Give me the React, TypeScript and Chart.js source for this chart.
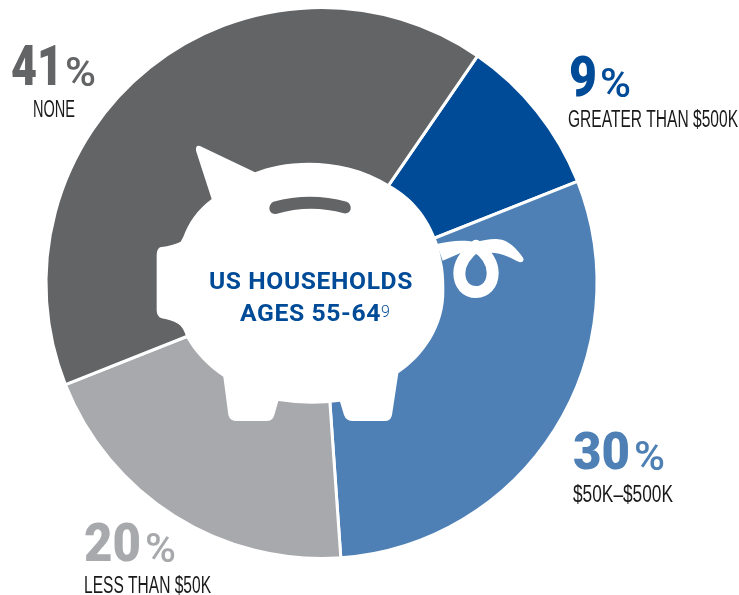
import { useEffect, useRef } from "react";
import { Chart, registerables } from "chart.js";

Chart.register(...registerables);

const categories = ["GREATER THAN $500K", "$50K–$500K", "LESS THAN $50K", "NONE"];
const shares = [9.4, 29.9, 20.1, 40.6];
const percentLabels = ["9", "30", "20", "41"];
const sliceColors = ["#004b97", "#4e80b6", "#a7a9ac", "#636466"];
const centerLines = ["US HOUSEHOLDS", "AGES 55-64"];
const footnote = "9";

// x, baseline, size and target widths of each callout: number, percent sign, caption
const callouts = [
  { nx: 569, nw: 28, ny: 96, fs: 55, px: 600, pw: 31, cx: 568, cw: 170, cy: 127 },
  { nx: 573, nw: 57, ny: 469, fs: 51, px: 634, pw: 31, cx: 573, cw: 100, cy: 502 },
  { nx: 84, nw: 57, ny: 561, fs: 53, px: 145, pw: 31, cx: 84, cw: 127, cy: 593 },
  { nx: 11, nw: 52, ny: 85, fs: 55, px: 65, pw: 31, cx: 33, cw: 42, cy: 117 },
];

const PIG_BODY =
  "M 180 48 L 345 127 C 430 90 610 75 750 165 C 820 205 865 260 893 340 L 905 392 C 912 420 913 450 913 480 " +
  "C 915 590 850 680 775 730 L 756 855 Q 752 873 735 873 L 640 873 Q 618 873 612 855 L 600 815 Q 510 828 415 813 " +
  "L 403 855 Q 398 873 380 873 L 290 873 Q 270 873 265 855 L 250 740 C 210 715 165 670 140 625 Q 130 590 115 582 " +
  "Q 95 570 65 565 Q 50 560 50 540 L 50 375 Q 50 358 60 352 Q 105 345 122 335 L 130 320 C 145 280 170 240 215 207 " +
  "L 168 62 Q 166 44 180 48 Z";
const PIG_TAIL_BAND =
  "M 890 342 C 930 333 970 328 1005 337 C 1030 330 1060 325 1075 328 C 1105 330 1130 355 1150 385 " +
  "Q 1153 397 1140 397 C 1120 388 1090 368 1050 368 L 1008 372 L 960 370 L 908 392 Z";
const PIG_TAIL_RING =
  "M 1008 348 C 1040 370 1058 400 1058 428 C 1058 465 1035 486 1008 486 C 980 486 958 465 958 430 C 958 400 980 370 1008 348 Z";
const PIG_SLOT =
  "M 400 215 Q 510 185 620 215 Q 634 222 632 238 Q 628 252 612 250 Q 510 222 408 252 Q 390 252 388 236 Q 388 222 400 215 Z";

function fitText(ctx: CanvasRenderingContext2D, text: string, x: number, y: number, w: number) {
  const m = ctx.measureText(text).width;
  ctx.save();
  ctx.translate(x, y);
  ctx.scale(w / m, 1);
  ctx.fillText(text, 0, 0);
  ctx.restore();
}

const overlay = {
  id: "overlay",
  afterDatasetsDraw(chart: Chart) {
    const ctx = chart.ctx;
    ctx.save();
    ctx.save();
    ctx.translate(140, 130);
    ctx.scale(1 / 3, 1 / 3);
    ctx.fillStyle = "#ffffff";
    ctx.fill(new Path2D(PIG_BODY));
    ctx.fill(new Path2D(PIG_TAIL_BAND));
    ctx.strokeStyle = "#ffffff";
    ctx.lineWidth = 36;
    ctx.lineJoin = "round";
    ctx.stroke(new Path2D(PIG_TAIL_RING));
    ctx.fillStyle = sliceColors[3];
    ctx.fill(new Path2D(PIG_SLOT));
    ctx.restore();

    ctx.textBaseline = "alphabetic";
    ctx.textAlign = "left";
    ctx.fillStyle = sliceColors[0];
    ctx.font = "700 24.5px Roboto";
    (ctx as any).letterSpacing = "0.6px";
    fitText(ctx, centerLines[0], 209, 289, 204);
    fitText(ctx, centerLines[1], 240, 321, 141);
    (ctx as any).letterSpacing = "0px";
    ctx.font = "300 16px Roboto";
    ctx.fillText(footnote, 381, 317);

    callouts.forEach((c, i) => {
      ctx.fillStyle = sliceColors[i];
      ctx.font = `900 ${c.fs}px Roboto`;
      fitText(ctx, percentLabels[i], c.nx, c.ny, c.nw);
      ctx.font = "500 40px Roboto";
      fitText(ctx, "%", c.px, c.ny + 1, c.pw);
      ctx.fillStyle = "#1a1a1a";
      ctx.font = '400 23px "Liberation Sans Narrow", "Liberation Sans"';
      fitText(ctx, categories[i], c.cx, c.cy, c.cw);
    });
    ctx.restore();
  },
};

export default function App() {
  const ref = useRef<HTMLCanvasElement>(null);
  useEffect(() => {
    const chart = new Chart(ref.current!, {
      type: "doughnut",
      data: {
        labels: categories,
        datasets: [
          {
            data: shares,
            backgroundColor: sliceColors,
            borderColor: "#ffffff",
            borderWidth: 3,
            borderAlign: "center",
            hoverOffset: 0,
          },
        ],
      },
      options: {
        responsive: false,
        animation: false,
        cutout: "30%",
        rotation: 34.5,
        layout: { padding: { left: 44.5, right: 140.5, top: 6, bottom: 35 } },
        plugins: { legend: { display: false }, tooltip: { enabled: false }, title: { display: false } },
      },
      plugins: [overlay],
    });
    return () => chart.destroy();
  }, []);
  return (
    <canvas
      ref={ref}
      width={739}
      height={595}
      style={{ position: "absolute", left: 0, top: 0, display: "block" }}
    />
  );
}
